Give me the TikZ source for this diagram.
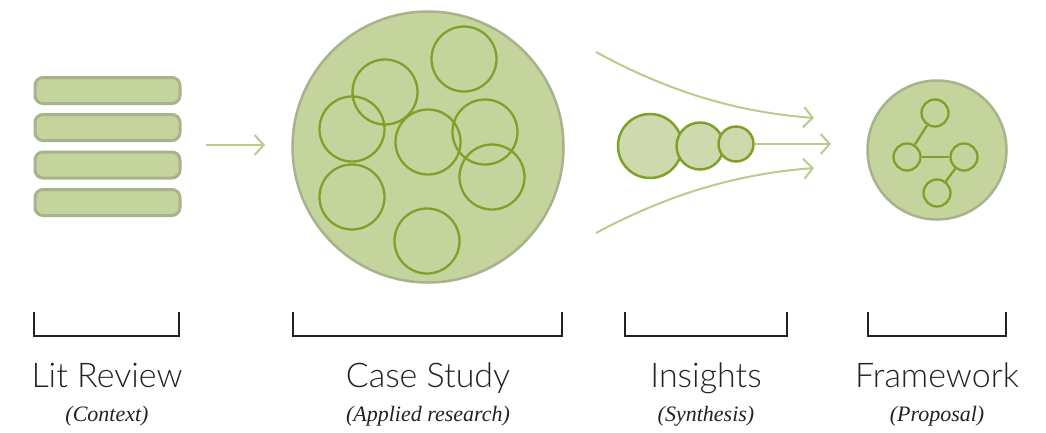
\documentclass[tikz,border=0pt]{standalone}
\usepackage{fontspec}
\usetikzlibrary{arrows.meta}
\newfontfamily\labfont{Lato Light}
\newfontfamily\subfont{Liberation Serif}
\definecolor{barfill}{HTML}{C5D39C}
\definecolor{barline}{HTML}{A8B28B}
\definecolor{ringline}{HTML}{7FA12A}
\definecolor{insfill}{HTML}{CFD9AE}
\definecolor{arrowcol}{HTML}{B8CC8E}
\definecolor{txt}{HTML}{222222}
\tikzset{
  bar/.style={draw=barline, fill=barfill, line width=3pt, rounded corners=8pt, minimum width=145pt, minimum height=26pt, inner sep=0pt},
  bigdisc/.style={circle, draw=barline, fill=barfill, line width=2.5pt, inner sep=0pt},
  ring/.style={circle, draw=ringline, line width=2.3pt, minimum size=65pt, inner sep=0pt},
  insring/.style={circle, draw=ringline, fill=insfill, line width=2.5pt, inner sep=0pt},
  dot/.style={circle, draw=ringline, line width=2.3pt, minimum size=27pt, inner sep=0pt},
  link/.style={draw=ringline, line width=2.3pt},
  flow/.style={draw=arrowcol, line width=2pt, -{Straight Barb[length=9pt,width=20pt,line width=2pt]}},
  brk/.style={draw=txt, line width=1.3pt},
  mainlab/.style={text=txt, font=\labfont\fontsize{34}{38}\selectfont, inner sep=0pt, anchor=base},
  sublab/.style={text=txt, font=\subfont\itshape\fontsize{22}{26}\selectfont, inner sep=0pt, anchor=base}
}
\begin{document}
\begin{tikzpicture}[x=1pt,y=-1pt]
\useasboundingbox (0,0) rectangle (1046,432);
% Lit review bars
\node[bar] (b1) at (107.5,90.5) {};
\node[bar] (b2) at (107.5,127.5) {};
\node[bar] (b3) at (107.5,165) {};
\node[bar] (b4) at (107.5,202.5) {};
\coordinate (a1s) at (206,145);
\coordinate (a1e) at (265,145);
\draw[flow] (a1s) -- (a1e);
% Case study
\node[bigdisc, minimum size=271pt] (case) at (428,147) {};
\node[ring] (c1) at (464,59) {};
\node[ring] (c2) at (385,92) {};
\node[ring] (c3) at (352,129) {};
\node[ring] (c4) at (428,142) {};
\node[ring] (c5) at (485,132) {};
\node[ring] (c6) at (492,177) {};
\node[ring] (c7) at (352,197) {};
\node[ring] (c8) at (427,241) {};
% Insights
\coordinate (t1) at (596,52);
\coordinate (t2) at (814,118);
\coordinate (m2) at (831,144);
\coordinate (u1) at (596,233);
\coordinate (u2) at (814,168);
\draw[flow] (t1) .. controls (680,98) and (750,113) .. (t2);
\draw[flow] (u1) .. controls (680,188) and (750,173) .. (u2);
\node[insring, minimum size=64pt] (i1) at (650,146) {};
\node[insring, minimum size=47pt] (i2) at (700,146) {};
\node[insring, minimum size=35pt] (i3) at (736,144) {};
\draw[flow] (i3.east) -- (m2);
% Framework
\node[bigdisc, minimum size=139pt] (fw) at (937,150) {};
\node[dot] (f1) at (935,113) {};
\node[dot] (f2) at (907,157) {};
\node[dot] (f3) at (964,157) {};
\node[dot] (f4) at (937,193) {};
\draw[link] (f1) -- (f2);
\draw[link] (f2) -- (f3);
\draw[link] (f3) -- (f4);
% Brackets
\draw[brk] (34,312) -- (34,336) -- (179,336) -- (179,312);
\draw[brk] (293,312) -- (293,336) -- (562,336) -- (562,312);
\draw[brk] (625,312) -- (625,336) -- (787,336) -- (787,312);
\draw[brk] (868,312) -- (868,336) -- (1006,336) -- (1006,312);
% Labels
\node[mainlab] (l1) at (107,387) {Lit Review};
\node[mainlab] (l2) at (428,387) {Case Study};
\node[mainlab] (l3) at (706,387) {Insights};
\node[mainlab] (l4) at (937,387) {Framework};
\node[sublab] (s1) at (107,421) {(Context)};
\node[sublab] (s2) at (428,421) {(Applied research)};
\node[sublab] (s3) at (706,421) {(Synthesis)};
\node[sublab] (s4) at (937,421) {(Proposal)};
\end{tikzpicture}
\end{document}
